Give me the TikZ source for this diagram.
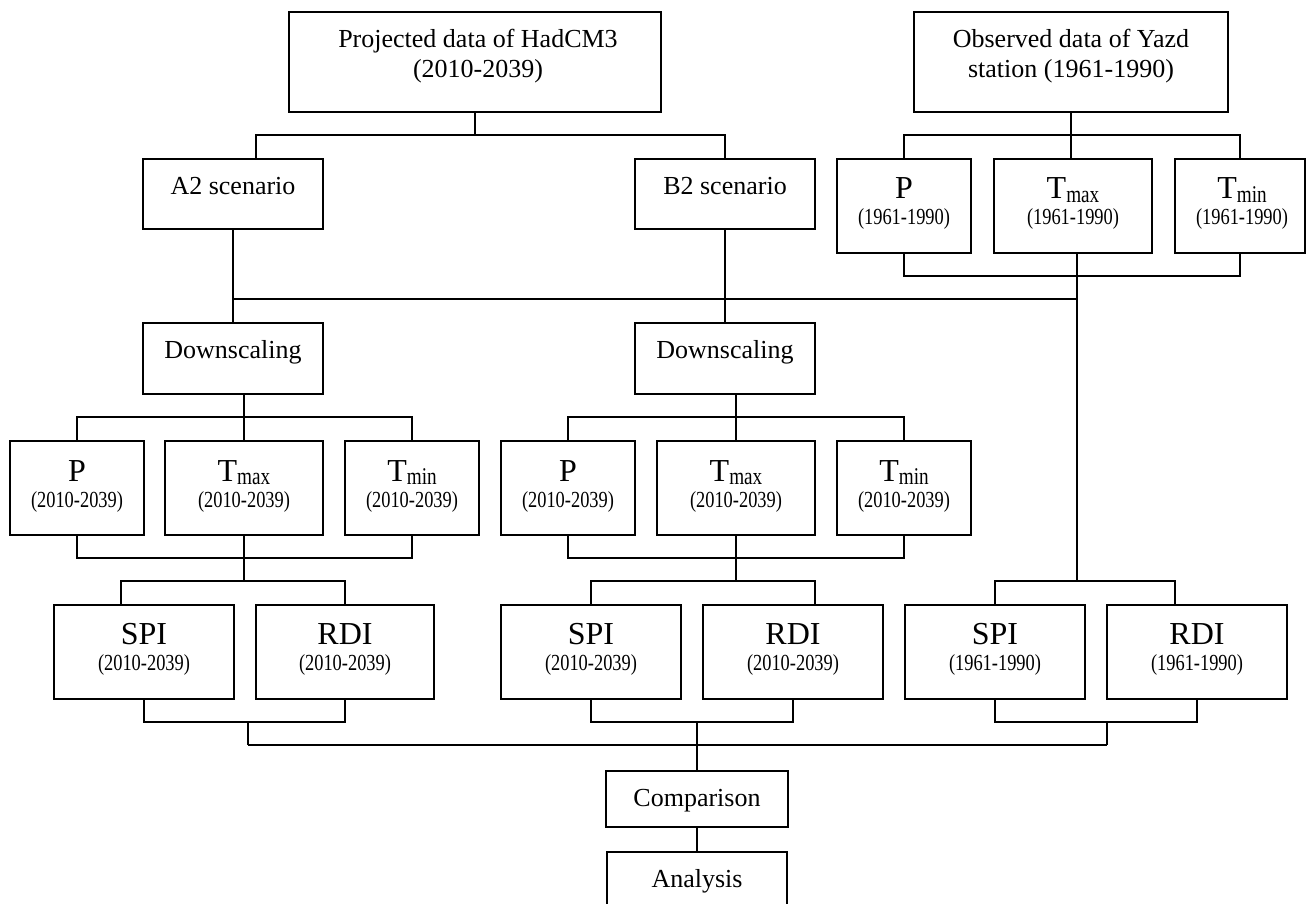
\documentclass[tikz,border=0pt]{standalone}
\usepackage{fontspec}
\setmainfont{Liberation Serif}
\newfontfamily\condfont[FakeStretch=0.8]{Liberation Serif}
\usetikzlibrary{fit,calc}
\newcommand{\bigtxt}{\fontsize{32}{32}\selectfont}
\newcommand{\midtxt}{\fontsize{26}{30}\selectfont}
\newcommand{\yrtxt}{\condfont\fontsize{23}{23}\selectfont}
\newcommand{\sbs}[1]{\raisebox{-3.5pt}{\condfont\fontsize{24}{24}\selectfont #1}}
\begin{document}
\begin{tikzpicture}[x=1pt,y=-1pt,
  box/.style={draw, line width=2pt, inner sep=0pt, rectangle},
  conn/.style={line width=2pt},
  lbl/.style={anchor=base, inner sep=0pt, font=\midtxt},
  big/.style={anchor=base, inner sep=0pt, font=\bigtxt},
  yrs/.style={anchor=base, inner sep=0pt, font=\yrtxt}]
\useasboundingbox (0,0) rectangle (1306,904);

% ---- boxes ----
\node[box, fit={(289,12) (661,112)}] (top) {};
\node[box, fit={(914,12) (1228,112)}] (obs) {};
\node[box, fit={(143,159) (323,229)}] (a2) {};
\node[box, fit={(635,159) (815,229)}] (b2) {};
\node[box, fit={(837,159) (971,253)}] (oP) {};
\node[box, fit={(994,159) (1152,253)}] (oTx) {};
\node[box, fit={(1175,159) (1305,253)}] (oTn) {};
\node[box, fit={(143,323) (323,394)}] (dA) {};
\node[box, fit={(635,323) (815,394)}] (dB) {};
\node[box, fit={(10,441) (144,535)}] (aP) {};
\node[box, fit={(165,441) (323,535)}] (aTx) {};
\node[box, fit={(345,441) (479,535)}] (aTn) {};
\node[box, fit={(501,441) (635,535)}] (bP) {};
\node[box, fit={(657,441) (815,535)}] (bTx) {};
\node[box, fit={(837,441) (971,535)}] (bTn) {};
\node[box, fit={(54,605) (234,699)}] (sA) {};
\node[box, fit={(256,605) (434,699)}] (rA) {};
\node[box, fit={(501,605) (681,699)}] (sB) {};
\node[box, fit={(703,605) (883,699)}] (rB) {};
\node[box, fit={(905,605) (1085,699)}] (sO) {};
\node[box, fit={(1107,605) (1287,699)}] (rO) {};
\node[box, fit={(606,771) (788,827)}] (cmp) {};
\node[box, fit={(607,852) (787,914)}] (ana) {};

% ---- texts ----
\node[lbl, align=center] (topt) at (478,78) {Projected data of HadCM3\\(2010-2039)};
\node[lbl, align=center] (obst) at (1071,78) {Observed data of Yazd\\station (1961-1990)};
\node[lbl] (a2t) at (233,195) {A2 scenario};
\node[lbl] (b2t) at (725,195) {B2 scenario};
\node[lbl] (dAt) at (233,358) {Downscaling};
\node[lbl] (dBt) at (725,358) {Downscaling};

\node[big] (oPt) at (904,199) {P};
\node[yrs] (oPy) at (904,225) {(1961-1990)};
\node[big] (oTxt) at (1073,199) {T\sbs{max}};
\node[yrs] (oTxy) at (1073,225) {(1961-1990)};
\node[big] (oTnt) at (1242,199) {T\sbs{min}};
\node[yrs] (oTny) at (1242,225) {(1961-1990)};

\node[big] (aPt) at (77,481) {P};
\node[yrs] (aPy) at (77,507) {(2010-2039)};
\node[big] (aTxt) at (244,481) {T\sbs{max}};
\node[yrs] (aTxy) at (244,507) {(2010-2039)};
\node[big] (aTnt) at (412,481) {T\sbs{min}};
\node[yrs] (aTny) at (412,507) {(2010-2039)};
\node[big] (bPt) at (568,481) {P};
\node[yrs] (bPy) at (568,507) {(2010-2039)};
\node[big] (bTxt) at (736,481) {T\sbs{max}};
\node[yrs] (bTxy) at (736,507) {(2010-2039)};
\node[big] (bTnt) at (904,481) {T\sbs{min}};
\node[yrs] (bTny) at (904,507) {(2010-2039)};

\node[big] (sAt) at (144,644) {SPI};
\node[yrs] (sAy) at (144,670) {(2010-2039)};
\node[big] (rAt) at (345,644) {RDI};
\node[yrs] (rAy) at (345,670) {(2010-2039)};
\node[big] (sBt) at (591,644) {SPI};
\node[yrs] (sBy) at (591,670) {(2010-2039)};
\node[big] (rBt) at (793,644) {RDI};
\node[yrs] (rBy) at (793,670) {(2010-2039)};
\node[big] (sOt) at (995,644) {SPI};
\node[yrs] (sOy) at (995,670) {(1961-1990)};
\node[big] (rOt) at (1197,644) {RDI};
\node[yrs] (rOy) at (1197,670) {(1961-1990)};

\node[lbl] (cmpt) at (697,806) {Comparison};
\node[lbl] (anat) at (697,887) {Analysis};

% ---- junction coordinates ----
\coordinate (j1) at (475,135);
\coordinate (a2in) at (256,159);
\coordinate (j2) at (1071,135);
\coordinate (j3) at (1077,276);
\coordinate (j4) at (1077,299);
\coordinate (j5) at (1077,581);
\coordinate (rOin) at (1175,605);
\coordinate (j6) at (244,417);
\coordinate (j6b) at (736,417);
\coordinate (j7) at (244,558);
\coordinate (j8) at (244,581);
\coordinate (sAin) at (121,605);
\coordinate (j9) at (736,558);
\coordinate (j10) at (736,581);
\coordinate (rBin) at (815,605);
\coordinate (j11) at (248,722);
\coordinate (j12) at (248,745);
\coordinate (j13) at (697,722);
\coordinate (j14) at (1107,722);
\coordinate (j15) at (1107,745);

% ---- connectors ----
\draw[conn] (top.south) -- (j1);
\draw[conn] (a2in) |- (j1) -| (b2.north);

\draw[conn] (obs.south) -- (oTx.north -| obs.south);
\draw[conn] (oP.north) |- (j2) -| (oTn.north);

\draw[conn] (oP.south) |- (j3) -| (oTn.south);
\draw[conn] (oTx.south -| j3) -- (j5);
\draw[conn] (a2.south |- j4) -- (j4);
\draw[conn] (a2.south) -- (dA.north);
\draw[conn] (b2.south) -- (dB.north);
\draw[conn] (sO.north) |- (j5) -| (rOin);

\draw[conn] (dA.south -| aTx.north) -- (aTx.north);
\draw[conn] (aP.north) |- (j6) -| (aTn.north);
\draw[conn] (dB.south -| bTx.north) -- (bTx.north);
\draw[conn] (bP.north) |- (j6b) -| (bTn.north);

\draw[conn] (aP.south) |- (j7) -| (aTn.south);
\draw[conn] (aTx.south) -- (j8);
\draw[conn] (sAin) |- (j8) -| (rA.north);
\draw[conn] (bP.south) |- (j9) -| (bTn.south);
\draw[conn] (bTx.south) -- (j10);
\draw[conn] (sB.north) |- (j10) -| (rBin);

\draw[conn] (sA.south) |- (j11) -| (rA.south);
\draw[conn] (j11) -- (j12);
\draw[conn] (sB.south) |- (j13) -| (rB.south);
\draw[conn] (j13) -- (cmp.north);
\draw[conn] (sO.south) |- (j14) -| (rO.south);
\draw[conn] (j14) -- (j15);
\draw[conn] (j12) -- (j15);
\draw[conn] (cmp.south) -- (cmp.south |- ana.north);
\end{tikzpicture}
\end{document}
